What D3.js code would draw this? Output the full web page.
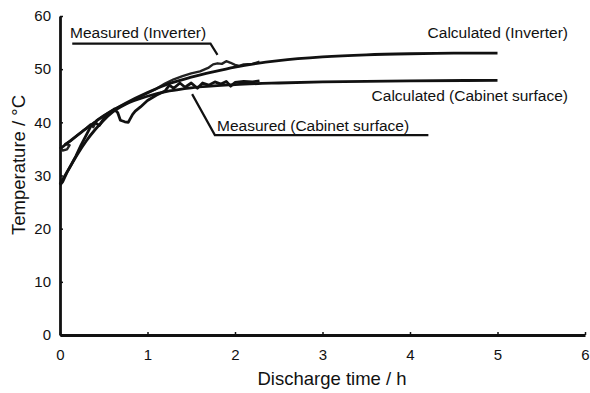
<!DOCTYPE html>
<html>
<head>
<meta charset="utf-8">
<script src="https://cdn.jsdelivr.net/npm/d3@7"></script>
<style>
  body { margin: 0; background: #fff; }
  text { font-family: "Liberation Sans", Arial, sans-serif; fill: #111; }
</style>
</head>
<body>
<div id="vis"></div>
<script>
// Data: [time (h), temperature (°C)]
var calcInverter = [[0, 35.0], [0.25, 38.2], [0.5, 41.2], [0.75, 43.6], [1.0, 45.6], [1.25, 47.3],
  [1.5, 48.5], [1.75, 49.5], [2.0, 50.4], [2.5, 51.6], [3.0, 52.3], [3.5, 52.7], [4.0, 52.9], [4.5, 53.0], [5.0, 53.0]];
var calcCabinet = [[0, 28.4], [0.1, 31.2], [0.2, 34.0], [0.3, 36.5], [0.4, 38.6], [0.5, 40.4], [0.6, 41.9],
  [0.75, 43.4], [1.0, 44.9], [1.25, 45.9], [1.5, 46.5], [2.0, 47.1], [2.5, 47.4], [3.0, 47.6], [4.0, 47.8], [5.0, 47.9]];
var measInverter = [[0.00, 35.3], [0.03, 34.7], [0.08, 34.9], [0.11, 35.7], [0.06, 35.9], [0.13, 36.6], [0.2, 37.6],
  [0.3, 38.9], [0.35, 39.6], [0.38, 39.1], [0.42, 40.4], [0.5, 41.3], [0.6, 42.3], [0.7, 43.1], [0.8, 43.9],
  [0.9, 44.7], [1.0, 45.5], [1.1, 46.3], [1.2, 47.3], [1.3, 48.1], [1.4, 48.7], [1.5, 49.2], [1.6, 49.6],
  [1.7, 50.3], [1.75, 50.9], [1.8, 51.1], [1.85, 51.0], [1.9, 51.5], [1.95, 51.2], [2.0, 50.8], [2.05, 50.6],
  [2.1, 50.9], [2.2, 51.0], [2.28, 51.4]];
var measCabinet = [[0.00, 28.2], [0.03, 28.8], [0.08, 30.6], [0.13, 32.1], [0.18, 33.6], [0.24, 35.7], [0.3, 37.6],
  [0.35, 39.2], [0.4, 40.0], [0.45, 39.4], [0.5, 40.7], [0.55, 41.6], [0.6, 42.1], [0.62, 42.5], [0.66, 41.8],
  [0.69, 40.4], [0.74, 40.1], [0.78, 40.0], [0.8, 40.6], [0.83, 41.5], [0.86, 42.1], [0.92, 42.9], [1.0, 44.1],
  [1.1, 45.1], [1.2, 45.9], [1.25, 47.0], [1.3, 46.4], [1.37, 47.4], [1.43, 46.6], [1.5, 47.4], [1.57, 46.4],
  [1.63, 47.4], [1.7, 47.0], [1.77, 47.6], [1.84, 47.2], [1.9, 47.7], [1.95, 46.8], [2.0, 47.5], [2.1, 47.7],
  [2.2, 47.6], [2.28, 47.8]];

var xTicks = [0, 1, 2, 3, 4, 5, 6];
var yTicks = [0, 10, 20, 30, 40, 50, 60];

// Leader lines for the labels, in data units
var leaderInverter = [[0.14, 54.8], [1.72, 54.8], [1.80, 52.7]];
var leaderCabinet = [[1.51, 45.3], [1.77, 37.6], [4.21, 37.6]];

var width = 590, height = 393;
var margin = { top: 16, right: 5, bottom: 58, left: 60 };
var drawWidth = width - margin.left - margin.right;
var drawHeight = height - margin.top - margin.bottom;

var svg = d3.select('#vis').append('svg')
  .attr('width', width)
  .attr('height', height);

var g = svg.append('g')
  .attr('transform', 'translate(' + margin.left + ',' + margin.top + ')');

var xScale = d3.scaleLinear().domain([0, 6]).range([0, drawWidth]);
var yScale = d3.scaleLinear().domain([0, 60]).range([drawHeight, 0]);

// Axes
var xAxis = d3.axisBottom(xScale).tickValues(xTicks).tickFormat(d3.format('d'))
  .tickSize(-3).tickPadding(14).tickSizeOuter(0);
var yAxis = d3.axisLeft(yScale).tickValues(yTicks).tickFormat(d3.format('d'))
  .tickSize(-3).tickPadding(9).tickSizeOuter(0);

var gx = g.append('g').attr('transform', 'translate(0,' + drawHeight + ')').call(xAxis);
var gy = g.append('g').call(yAxis);

[gx, gy].forEach(function(ax) {
  ax.select('.domain').attr('stroke', '#111').attr('stroke-width', 2.8);
  ax.selectAll('.tick line').attr('stroke', '#111').attr('stroke-width', 1.5);
  ax.selectAll('.tick text').style('font-size', '15px').attr('fill', '#111');
});

svg.append('text')
  .attr('x', 332)
  .attr('y', 385)
  .attr('text-anchor', 'middle')
  .style('font-size', '18.5px')
  .text('Discharge time / h');

svg.append('text')
  .attr('transform', 'translate(25,165) rotate(-90)')
  .attr('text-anchor', 'middle')
  .style('font-size', '18.5px')
  .text('Temperature / °C');

// Curves
var line = d3.line()
  .x(function(d) { return xScale(d[0]); })
  .y(function(d) { return yScale(d[1]); });

var smooth = d3.line()
  .x(function(d) { return xScale(d[0]); })
  .y(function(d) { return yScale(d[1]); })
  .curve(d3.curveMonotoneX);

g.append('path').datum(measInverter).attr('d', line)
  .attr('fill', 'none').attr('stroke', '#222').attr('stroke-width', 2.4).attr('stroke-linejoin', 'round');
g.append('path').datum(measCabinet).attr('d', line)
  .attr('fill', 'none').attr('stroke', '#111').attr('stroke-width', 2.8).attr('stroke-linejoin', 'round');
g.append('path').datum(calcInverter).attr('d', smooth)
  .attr('fill', 'none').attr('stroke', '#111').attr('stroke-width', 2.8);
g.append('path').datum(calcCabinet).attr('d', smooth)
  .attr('fill', 'none').attr('stroke', '#111').attr('stroke-width', 2.8);

// Leader lines
[leaderInverter, leaderCabinet].forEach(function(pts) {
  g.append('path').datum(pts).attr('d', line)
    .attr('fill', 'none').attr('stroke', '#111').attr('stroke-width', 2.2);
});

// Labels
var labels = [
  { text: 'Measured (Inverter)', x: 70, y: 37.5, anchor: 'start' },
  { text: 'Measured (Cabinet surface)', x: 217, y: 130.5, anchor: 'start' },
  { text: 'Calculated (Inverter)', x: 568, y: 37.5, anchor: 'end' },
  { text: 'Calculated (Cabinet surface)', x: 568, y: 100.5, anchor: 'end' }
];
svg.selectAll('.lbl').data(labels).enter().append('text')
  .attr('class', 'lbl')
  .attr('x', function(d) { return d.x; })
  .attr('y', function(d) { return d.y; })
  .attr('text-anchor', function(d) { return d.anchor; })
  .style('font-size', '15.5px')
  .text(function(d) { return d.text; });
</script>
</body>
</html>
